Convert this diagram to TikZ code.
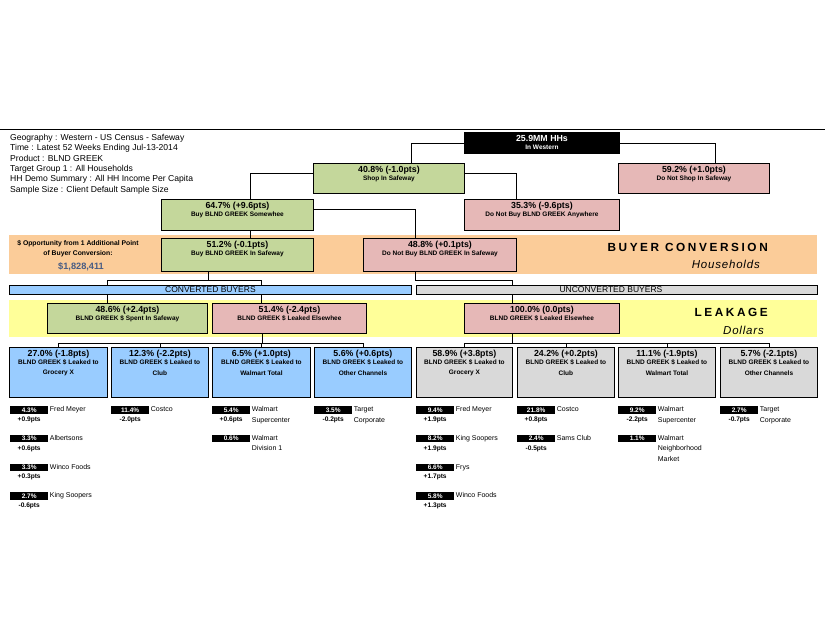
\documentclass[tikz,border=0pt]{standalone}
\usepackage{fontspec}
\setmainfont{Liberation Sans}
\newfontfamily\spacedfont[LetterSpace=22]{Liberation Sans}
\newfontfamily\spacedit[LetterSpace=7]{Liberation Sans}
\pgfdeclarelayer{bands}
\pgfdeclarelayer{lines}
\pgfsetlayers{bands,lines,main}
\definecolor{cgreen}{RGB}{196,215,155}
\definecolor{cpink}{RGB}{230,184,183}
\definecolor{cblue}{RGB}{153,204,255}
\definecolor{cgray}{RGB}{217,217,217}
\definecolor{corange}{RGB}{251,204,153}
\definecolor{cyellow}{RGB}{255,255,153}
\definecolor{cdollar}{RGB}{72,92,132}
\tikzset{
  bx/.style={draw=black, line width=0.9pt, inner sep=0pt, anchor=north west},
  grn/.style={bx, fill=cgreen},
  pnk/.style={bx, fill=cpink},
  blu/.style={bx, fill=cblue},
  gry/.style={bx, fill=cgray},
  blkbox/.style={bx, fill=black},
  ttl/.style={inner sep=0pt, font=\fontsize{8.8}{10}\selectfont\bfseries},
  sml/.style={inner sep=0pt, font=\fontsize{6.5}{8}\selectfont\bfseries},
  info/.style={inner sep=0pt, anchor=west, font=\fontsize{8.6}{10}\selectfont},
  conn/.style={draw=black, line width=0.8pt},
  blk/.style={fill=black, text=white, inner sep=0pt, minimum width=38pt, minimum height=7.5pt, anchor=north west, font=\fontsize{6.5}{7}\selectfont\bfseries},
  ptsf/.style={inner sep=0pt, font=\fontsize{6.6}{7}\selectfont\bfseries},
  lbl/.style={inner sep=0pt, anchor=west, font=\fontsize{7}{8}\selectfont, text height=5pt, text depth=1.5pt},
  bigttl/.style={inner sep=0pt, anchor=east, font={\spacedfont\fontsize{11.8}{13}\selectfont\bfseries}},
  bigit/.style={inner sep=0pt, anchor=east, font={\spacedit\fontsize{11.5}{13}\selectfont\itshape}},
  opp/.style={inner sep=0pt, font=\fontsize{6.8}{8}\selectfont\bfseries},
  barlbl/.style={inner sep=0pt, font=\fontsize{8.5}{9}\selectfont}
}
\newcommand\btext[3]{%
  \node[ttl] (#1t) at ([yshift=-6.8pt]#1.north) {#2};
  \node[sml] (#1s) at ([yshift=-15.8pt]#1.north) {#3};}
\newcommand\ltext[4]{%
  \node[ttl] (#1t) at ([yshift=-7pt]#1.north) {#2};
  \node[sml] (#1s) at ([yshift=-15pt]#1.north) {#3};
  \node[sml] (#1u) at ([yshift=-26pt]#1.north) {#4};}
\newcommand\sitem[8]{%
  \node[blk] (#1) at (#2,#3) {#4};
  \if\relax\detokenize{#5}\relax\else
    \node[ptsf] (#1p) at ([yshift=-6pt]#1.south) {#5};\fi
  \node[lbl] (#1a) at ([xshift=1.3pt]#1.east) {#6};
  \if\relax\detokenize{#7}\relax\else
    \node[lbl] (#1b) at ([xshift=1.3pt,yshift=-10.3pt]#1.east) {#7};\fi
  \if\relax\detokenize{#8}\relax\else
    \node[lbl] (#1c) at ([xshift=1.3pt,yshift=-20.6pt]#1.east) {#8};\fi}
\begin{document}
\begin{tikzpicture}[x=1pt,y=-1pt]
\useasboundingbox (0,0) rectangle (825,638);
% bands
\begin{pgfonlayer}{bands}
\fill[white] (0,0) rectangle (825,638);
\fill[corange] (9,235) rectangle (817,274);
\fill[cyellow] (9,300) rectangle (817,337);
\end{pgfonlayer}
\draw[line width=0.8pt] (0,129) -- (825,129);
% info text
\node[info] (i1) at (10,138.3) {Geography : Western - US Census - Safeway};
\node[info] (i2) at (10,148.6) {Time : Latest 52 Weeks Ending Jul-13-2014};
\node[info] (i3) at (10,158.9) {Product : BLND GREEK};
\node[info] (i4) at (10,169.2) {Target Group 1 : All Households};
\node[info] (i5) at (10,179.5) {HH Demo Summary : All HH Income Per Capita};
\node[info] (i6) at (10,189.8) {Sample Size : Client Default Sample Size};
% tree boxes
\node[blkbox, minimum width=155pt, minimum height=21pt] (top) at (464,132) {};
\node[ttl, text=white] (topt) at ([yshift=-6.3pt]top.north) {25.9MM HHs};
\node[sml, text=white] (tops) at ([yshift=-15pt]top.north) {In Western};
\node[grn, minimum width=151pt, minimum height=30pt] (shop) at (313,163) {};
\btext{shop}{40.8\% (-1.0pts)}{Shop In Safeway}
\node[pnk, minimum width=151pt, minimum height=30pt] (noshop) at (618,163) {};
\btext{noshop}{59.2\% (+1.0pts)}{Do Not Shop In Safeway}
\node[grn, minimum width=152pt, minimum height=31pt] (buy) at (161,199) {};
\btext{buy}{64.7\% (+9.6pts)}{Buy BLND GREEK Somewhee}
\node[pnk, minimum width=155pt, minimum height=31pt] (notany) at (464,199) {};
\btext{notany}{35.3\% (-9.6pts)}{Do Not Buy BLND GREEK Anywhere}
\node[grn, minimum width=152pt, minimum height=33pt] (insafe) at (161,238) {};
\btext{insafe}{51.2\% (-0.1pts)}{Buy BLND GREEK In Safeway}
\node[pnk, minimum width=153pt, minimum height=33pt] (notinsafe) at (363,238) {};
\btext{notinsafe}{48.8\% (+0.1pts)}{Do Not Buy BLND GREEK In Safeway}
% orange band text
\node[opp] (o1) at (78,243.5) {\$ Opportunity from 1 Additional Point};
\node[opp] (o2) at (78,254) {of Buyer Conversion:};
\node[inner sep=0pt, text=cdollar, font=\fontsize{9.2}{10}\selectfont\bfseries] (o3) at (81,267) {\$1,828,411};
\node[bigttl] (bc) at (768,247) {BUYER CONVERSION};
\node[bigit] (hh) at (760,264.5) {Households};
% bars
\node[blu, minimum width=402pt, minimum height=9pt] (conv) at (9,285) {};
\node[barlbl] (convt) at (conv.center) {CONVERTED BUYERS};
\node[gry, minimum width=401pt, minimum height=9pt] (unconv) at (416,285) {};
\node[barlbl] (unconvt) at ([xshift=-6pt]unconv.center) {UNCONVERTED BUYERS};
% leakage row
\node[grn, minimum width=160pt, minimum height=30pt] (spent) at (47,303) {};
\btext{spent}{48.6\% (+2.4pts)}{BLND GREEK \$ Spent In Safeway}
\node[pnk, minimum width=154pt, minimum height=30pt] (leaked) at (212,303) {};
\btext{leaked}{51.4\% (-2.4pts)}{BLND GREEK \$ Leaked Elsewhee}
\node[pnk, minimum width=155pt, minimum height=30pt] (unleaked) at (464,303) {};
\btext{unleaked}{100.0\% (0.0pts)}{BLND GREEK \$ Leaked Elsewhee}
\node[bigttl] (lk) at (768,312) {LEAKAGE};
\node[bigit] (dl) at (764,330) {Dollars};
% leaf boxes
\node[blu, minimum width=98pt, minimum height=50pt] (l1) at (9,347) {};
\ltext{l1}{27.0\% (-1.8pts)}{BLND GREEK \$ Leaked to}{Grocery X}
\node[blu, minimum width=97pt, minimum height=50pt] (l2) at (111,347) {};
\ltext{l2}{12.3\% (-2.2pts)}{BLND GREEK \$ Leaked to}{Club}
\node[blu, minimum width=98pt, minimum height=50pt] (l3) at (212,347) {};
\ltext{l3}{6.5\% (+1.0pts)}{BLND GREEK \$ Leaked to}{Walmart Total}
\node[blu, minimum width=97pt, minimum height=50pt] (l4) at (314,347) {};
\ltext{l4}{5.6\% (+0.6pts)}{BLND GREEK \$ Leaked to}{Other Channels}
\node[gry, minimum width=96pt, minimum height=50pt] (r1) at (416,347) {};
\ltext{r1}{58.9\% (+3.8pts)}{BLND GREEK \$ Leaked to}{Grocery X}
\node[gry, minimum width=97pt, minimum height=50pt] (r2) at (517,347) {};
\ltext{r2}{24.2\% (+0.2pts)}{BLND GREEK \$ Leaked to}{Club}
\node[gry, minimum width=97pt, minimum height=50pt] (r3) at (618,347) {};
\ltext{r3}{11.1\% (-1.9pts)}{BLND GREEK \$ Leaked to}{Walmart Total}
\node[gry, minimum width=97pt, minimum height=50pt] (r4) at (720,347) {};
\ltext{r4}{5.7\% (-2.1pts)}{BLND GREEK \$ Leaked to}{Other Channels}
% sub items
\sitem{a1}{10}{406}{4.3\%}{+0.9pts}{Fred Meyer}{}{}
\sitem{a2}{10}{434.7}{3.3\%}{+0.6pts}{Albertsons}{}{}
\sitem{a3}{10}{463.3}{3.3\%}{+0.3pts}{Winco Foods}{}{}
\sitem{a4}{10}{492}{2.7\%}{-0.6pts}{King Soopers}{}{}
\sitem{b1}{111}{406}{11.4\%}{-2.0pts}{Costco}{}{}
\sitem{c1}{212}{406}{5.4\%}{+0.6pts}{Walmart}{Supercenter}{}
\sitem{c2}{212}{434.7}{0.6\%}{}{Walmart}{Division 1}{}
\sitem{d1}{314}{406}{3.5\%}{-0.2pts}{Target}{Corporate}{}
\sitem{e1}{416}{406}{9.4\%}{+1.9pts}{Fred Meyer}{}{}
\sitem{e2}{416}{434.7}{8.2\%}{+1.9pts}{King Soopers}{}{}
\sitem{e3}{416}{463.3}{6.6\%}{+1.7pts}{Frys}{}{}
\sitem{e4}{416}{492}{5.8\%}{+1.3pts}{Winco Foods}{}{}
\sitem{f1}{517}{406}{21.8\%}{+0.8pts}{Costco}{}{}
\sitem{f2}{517}{434.7}{2.4\%}{-0.5pts}{Sams Club}{}{}
\sitem{g1}{618}{406}{9.2\%}{-2.2pts}{Walmart}{Supercenter}{}
\sitem{g2}{618}{434.7}{1.1\%}{}{Walmart}{Neighborhood}{Market}
\sitem{h1}{720}{406}{2.7\%}{-0.7pts}{Target}{Corporate}{}
% connectors
\begin{pgfonlayer}{lines}
\draw[conn] (top.west) -| ([xshift=22.5pt]shop.north);
\draw[conn] (top.east) -| ([xshift=21.5pt]noshop.north);
\draw[conn] ([yshift=5pt]shop.west) -| ([xshift=13pt]buy.north);
\draw[conn] ([yshift=5pt]shop.east) -| ([xshift=-25.5pt]notany.north);
\draw[conn] ([xshift=13pt]buy.south) -- ([xshift=13pt]insafe.north);
\draw[conn] ([yshift=5.5pt]buy.east) -| ([xshift=-24.5pt]notinsafe.north);
\draw[conn] ([xshift=-29pt]insafe.south) -- ++(0,9);
\draw[conn] ([xshift=-20pt]spent.north) -- ++(0,-23) -| ([xshift=-28pt]leaked.north);
\draw[conn] ([xshift=-24.5pt]notinsafe.south) -- ++(0,8) -| ([xshift=-29.5pt]unleaked.north);
\draw[conn] ([xshift=-27pt]leaked.south) -- ++(0,10);
\draw[conn] (l1.north) -- ++(0,-4) -| (l4.north);
\draw[conn] (l2.north) -- ++(0,-4);
\draw[conn] (l3.north) -- ++(0,-4);
\draw[conn] ([xshift=-29.5pt]unleaked.south) -- ++(0,10);
\draw[conn] (r1.north) -- ++(0,-4) -| (r4.north);
\draw[conn] (r2.north) -- ++(0,-4);
\draw[conn] (r3.north) -- ++(0,-4);
\end{pgfonlayer}
\end{tikzpicture}
\end{document}
